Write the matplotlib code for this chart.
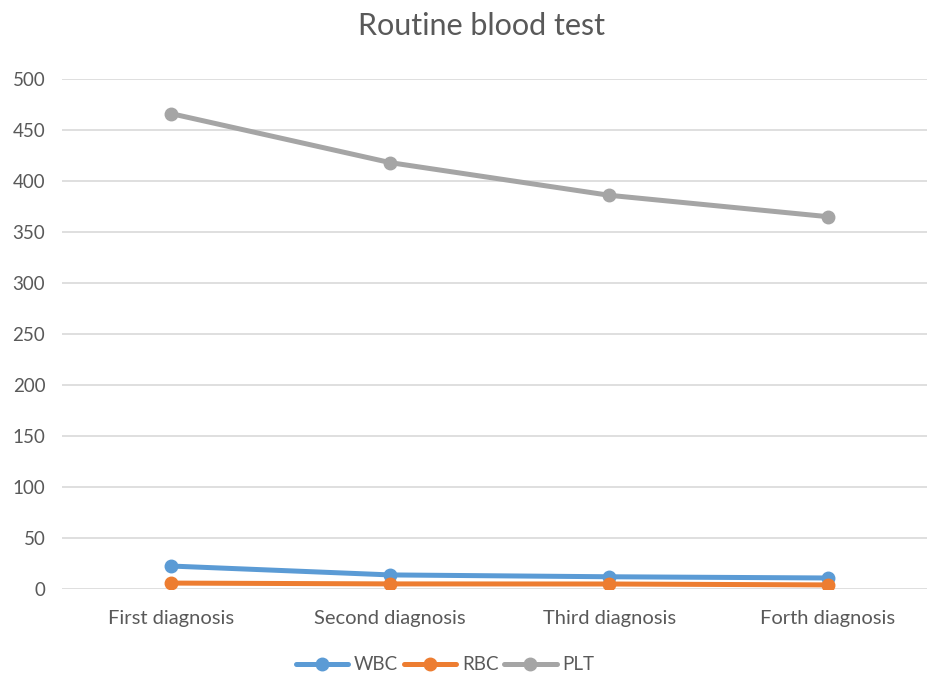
import matplotlib
matplotlib.use("Agg")
import matplotlib.pyplot as plt

categories = ["First diagnosis", "Second diagnosis", "Third diagnosis", "Forth diagnosis"]
wbc = [22.5, 13.8, 12.0, 10.8]
rbc = [5.8, 5.0, 4.9, 4.0]
plt_vals = [466, 418, 386, 365]
series_names = ["WBC", "RBC", "PLT"]
y_ticks = [0, 50, 100, 150, 200, 250, 300, 350, 400, 450, 500]

colors = ["#5B9BD5", "#ED7D31", "#A5A5A5"]
text_color = "#595959"

plt.rcParams["font.family"] = ["Lato", "DejaVu Sans"]

fig = plt.figure(figsize=(9.27, 6.75), dpi=100)
ax = fig.add_axes([62 / 927, 1 - 589 / 675, (937.5 - 62) / 927, (589 - 79) / 675])

x = list(range(len(categories)))
for vals, name, c in zip([wbc, rbc, plt_vals], series_names, colors):
    ax.plot(x, vals, color=c, lw=3.6, marker="o", ms=9, label=name,
            solid_capstyle="round")

ax.set_xlim(-0.5, len(categories) - 0.5)
ax.set_ylim(0, 500)
ax.set_yticks(y_ticks)
ax.set_xticks(x)
ax.set_xticklabels(categories)
ax.grid(axis="y", color="#D9D9D9", lw=1.2)
ax.set_axisbelow(True)
for s in ax.spines.values():
    s.set_visible(False)
ax.tick_params(length=0, colors=text_color, labelsize=13.5)
ax.tick_params(axis="x", labelsize=14.5, pad=15)
ax.tick_params(axis="y", pad=12)

fig.text(481 / 927, 1 - 26 / 675, "Routine blood test", ha="center", va="center",
         fontsize=22, color=text_color)

fig.legend(loc="center", bbox_to_anchor=(445 / 927, 1 - 665 / 675), ncol=3,
           frameon=False, fontsize=13.5, labelcolor=text_color, handlelength=2.8,
           handletextpad=0.3, columnspacing=0.3)

fig.savefig("out.png", dpi=100)
